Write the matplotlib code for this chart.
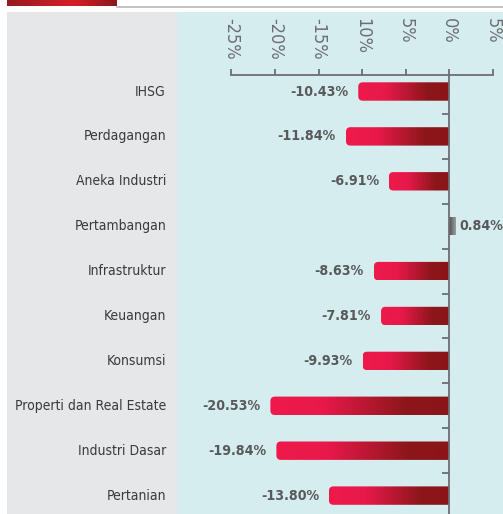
import os
import numpy as np
import matplotlib
matplotlib.use('Agg')
import matplotlib.pyplot as plt
from matplotlib.patches import Rectangle, PathPatch
from matplotlib.path import Path
from matplotlib.lines import Line2D
from matplotlib.colors import LinearSegmentedColormap
from matplotlib.font_manager import FontProperties
import matplotlib.transforms as mtransforms
from matplotlib import font_manager

# ---------------- data ----------------
categories = ['IHSG', 'Perdagangan', 'Aneka Industri', 'Pertambangan', 'Infrastruktur',
              'Keuangan', 'Konsumsi', 'Properti dan Real Estate', 'Industri Dasar', 'Pertanian']
values = [-10.43, -11.84, -6.91, 0.84, -8.63, -7.81, -9.93, -20.53, -19.84, -13.80]
value_labels = ['-10.43%', '-11.84%', '-6.91%', '0.84%', '-8.63%', '-7.81%', '-9.93%',
                '-20.53%', '-19.84%', '-13.80%']
tick_values = [-25, -20, -15, -10, -5, 0, 5]
tick_labels = ['-25%', '-20%', '-15%', '10%', '5%', '0%', '5%']

# ---------------- fonts: look for a condensed face ----------------
prefs = ['liberationsansnarrow', 'dejavusanscondensed', 'notosans-condensed',
         'robotocondensed', 'opensans-condensed', 'opensanscondensed', 'notosanscondensed']
reg_cands, bold_cands = {}, {}
for f in font_manager.fontManager.ttflist:
    b = os.path.basename(f.fname).lower()
    if not ('condensed' in b or 'narrow' in b):
        continue
    if any(k in b for k in ['italic', 'oblique', 'mono', 'serif', 'semicondensed',
                            'extracondensed', 'ultracondensed']):
        continue
    for p in prefs:
        if b.startswith(p):
            rest = b[len(p):]
            if 'bold' in rest and not any(k in rest for k in ['semi', 'extra', 'ultra', 'demi']):
                bold_cands.setdefault(p, f.fname)
            elif not any(k in rest for k in ['bold', 'light', 'thin', 'medium', 'black', 'semi',
                                              'extra', 'heavy', 'book']):
                reg_cands.setdefault(p, f.fname)
            break

fp_reg = fp_bold = None
for p in prefs:
    if p in reg_cands:
        fp_reg = FontProperties(fname=reg_cands[p])
        fp_bold = FontProperties(fname=bold_cands[p]) if p in bold_cands else \
            FontProperties(fname=reg_cands[p], weight='bold')
        break
condensed = fp_reg is not None
if not condensed:
    fp_reg = FontProperties(family=['Roboto', 'DejaVu Sans'])
    fp_bold = FontProperties(family=['Roboto', 'DejaVu Sans'], weight='bold')
    s_cat, s_val, s_tick = 8.5, 9, 11.5
else:
    s_cat, s_val, s_tick = 10, 10.2, 13

W, H = 503, 514
fig = plt.figure(figsize=(W / 100, H / 100), dpi=100)
fig.patch.set_facecolor('white')

def fx(px):
    return px / W

def fy(py):
    return 1 - py / H

# gray label panel
fig.add_artist(Rectangle((fx(7), 0), fx(177) - fx(7), fy(12), transform=fig.transFigure,
                         facecolor='#e6e7e8', edgecolor='none', zorder=0))

# header red bar + rule
hax = fig.add_axes([fx(7), fy(6), fx(117) - fx(7), 6 / H])
hcm = LinearSegmentedColormap.from_list('hdr', [(0, '#951a1f'), (0.6, '#d71f27'), (1, '#8a191c')])
hax.imshow(np.linspace(0, 1, 256).reshape(1, -1), cmap=hcm, aspect='auto')
hax.axis('off')
fig.add_artist(Line2D([fx(117), 1], [fy(6.5), fy(6.5)], transform=fig.transFigure,
                      color='#bcbec0', lw=1.3))

# main axes (cyan panel)
row_px = 44.9
first_px = 91.5
top_px = 12
ax = fig.add_axes([fx(177), 0, 1 - fx(177), fy(top_px)])
ax.set_facecolor('#d6edf0')
px_per_unit = 8.7
zero_px = 449
xlim = ((177 - zero_px) / px_per_unit, (503 - zero_px) / px_per_unit)
ylim = ((H - first_px) / row_px, (top_px - first_px) / row_px)
y_axis = (75 - first_px) / row_px
y_ticklab = (18 - first_px) / row_px

red_cm = LinearSegmentedColormap.from_list('red', [(0, '#ee1a4b'), (0.3, '#e8194a'),
                                                    (0.76, '#8d161b'), (1, '#8a1519')])
gray_cm = LinearSegmentedColormap.from_list('gry', [(0, '#4f5052'), (1, '#a7a9ac')])

hh = 9.2 / row_px
rx = 4.5 / px_per_unit
ry = 4.5 / row_px
grad = np.linspace(0, 1, 256).reshape(1, -1)

for i, (v, lab) in enumerate(zip(values, value_labels)):
    c = i
    if v < 0:
        x0, x1 = v, 0
        verts = [(x1, c - hh), (x0 + rx, c - hh), (x0, c - hh), (x0, c - hh + ry),
                 (x0, c + hh - ry), (x0, c + hh), (x0 + rx, c + hh), (x1, c + hh), (x1, c - hh)]
        codes = [Path.MOVETO, Path.LINETO, Path.CURVE3, Path.CURVE3, Path.LINETO,
                 Path.CURVE3, Path.CURVE3, Path.LINETO, Path.CLOSEPOLY]
        cmap = red_cm
    else:
        x0, x1 = 0, v
        verts = [(x0, c - hh), (x1, c - hh), (x1, c + hh), (x0, c + hh), (x0, c - hh)]
        codes = [Path.MOVETO, Path.LINETO, Path.LINETO, Path.LINETO, Path.CLOSEPOLY]
        cmap = gray_cm
    patch = PathPatch(Path(verts, codes), transform=ax.transData, facecolor='none',
                      edgecolor='none')
    ax.add_patch(patch)
    im = ax.imshow(grad, cmap=cmap, aspect='auto', extent=(x0, x1, c + hh, c - hh), zorder=2)
    im.set_clip_path(patch)
    if v < 0:
        ax.text(v - 10 / px_per_unit, c, lab, ha='right', va='center', fontsize=s_val,
                fontproperties=fp_bold, color='#58595b')
    else:
        ax.text(v + 3 / px_per_unit, c, lab, ha='left', va='center',
                fontproperties=fp_bold, fontsize=s_val, color='#58595b', clip_on=False)

# category labels in gray panel
blend = mtransforms.blended_transform_factory(fig.transFigure, ax.transData)
for i, cat in enumerate(categories):
    ax.text(fx(166), i, cat, transform=blend, ha='right', va='center',
            fontproperties=fp_reg, fontsize=s_cat, color='#3a3a3c', clip_on=False)

# axes/spines
ax.set_xlim(*xlim)
ax.set_ylim(*ylim)
for s in ['bottom', 'right']:
    ax.spines[s].set_visible(False)
ax.spines['top'].set_position(('data', y_axis))
ax.spines['top'].set_bounds(tick_values[0], tick_values[-1])
ax.spines['left'].set_position(('data', 0))
ax.spines['left'].set_bounds(y_axis, ylim[0])
for s in ['top', 'left']:
    ax.spines[s].set_color('#6d6e71')
    ax.spines[s].set_linewidth(1.3)
    ax.spines[s].set_zorder(3)

ax.xaxis.set_ticks_position('top')
ax.set_xticks(tick_values)
ax.set_xticklabels([])
ax.tick_params(axis='x', direction='out', length=4, width=1.3, color='#6d6e71')
for t, lab in zip(tick_values, tick_labels):
    ax.text(t, y_ticklab, lab, rotation=-90, ha='center', va='top',
            fontproperties=fp_reg, fontsize=s_tick, color='#6d6e71')

ax.set_yticks([])
ax.set_yticks([i + 0.5 for i in range(len(categories) - 1)], minor=True)
ax.tick_params(axis='y', which='minor', direction='out', length=5, width=1.3,
               color='#6d6e71', labelleft=False)

fig.savefig('out.png', dpi=100)
